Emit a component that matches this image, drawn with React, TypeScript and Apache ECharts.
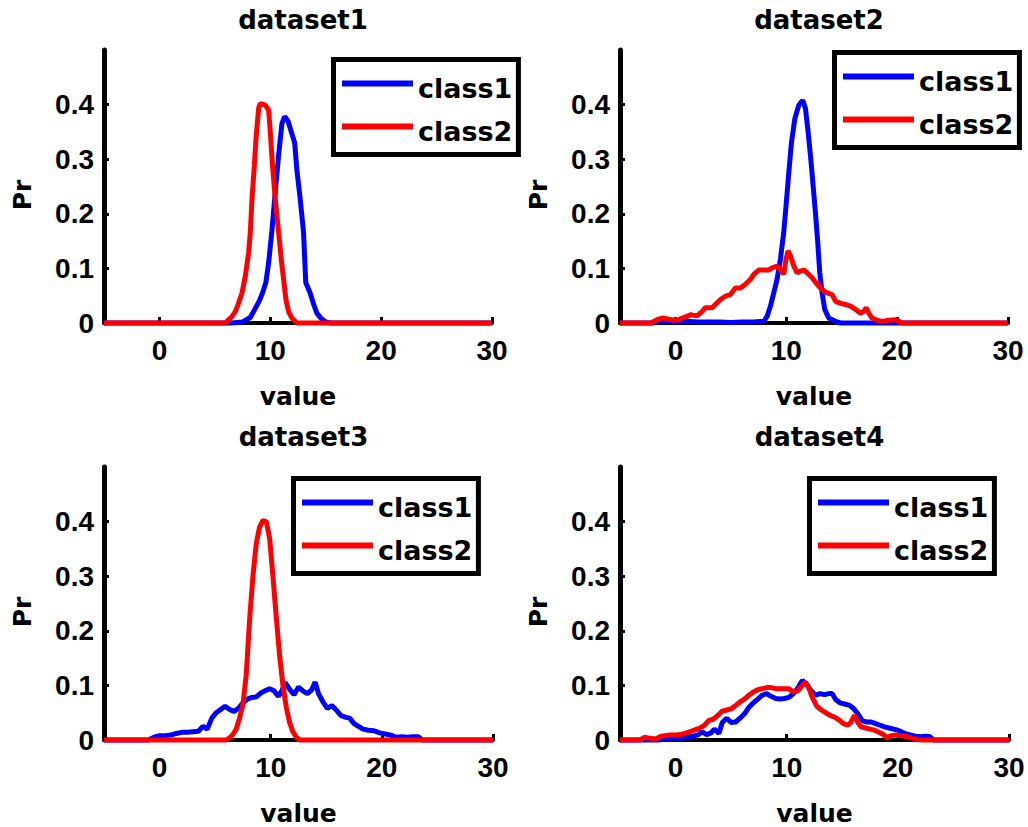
import React, { useEffect, useRef } from 'react';
import * as echarts from 'echarts';

const panelTitles = ['dataset1', 'dataset2', 'dataset3', 'dataset4'];
const seriesNames = ['class1', 'class2'];
const seriesColors = ['#0000ff', '#ff0000'];
const xTickValues = [0, 10, 20, 30];
const yTickValues = [0, 0.1, 0.2, 0.3, 0.4];
const xLabel = 'value';
const yLabel = 'Pr';

// dataset1
const d1Class1X = [-5, 6.5, 7.5, 8.2, 8.6, 9.0, 9.3, 9.6, 9.85, 10.15, 10.45, 10.75, 11.05, 11.3, 11.6, 11.9, 12.2, 12.4, 12.7, 13.0, 13.2, 13.6, 13.9, 14.2, 14.6, 15.0, 15.4, 30];
const d1Class1Y = [0, 0, 0.002, 0.01, 0.025, 0.04, 0.055, 0.074, 0.11, 0.17, 0.24, 0.307, 0.365, 0.378, 0.37, 0.35, 0.33, 0.28, 0.227, 0.166, 0.074, 0.055, 0.035, 0.018, 0.008, 0.002, 0, 0];
const d1Class2X = [-5, 5.9, 6.1, 6.55, 6.85, 7.15, 7.45, 7.75, 8.05, 8.2, 8.35, 8.56, 8.71, 8.95, 9.1, 9.55, 9.85, 10.0, 10.2, 10.45, 10.75, 10.99, 11.2, 11.41, 11.65, 11.95, 12.4, 30];
const d1Class2Y = [0, 0, 0.003, 0.012, 0.021, 0.037, 0.055, 0.086, 0.129, 0.166, 0.227, 0.288, 0.337, 0.393, 0.402, 0.399, 0.39, 0.35, 0.288, 0.227, 0.166, 0.117, 0.08, 0.043, 0.021, 0.009, 0, 0];

// dataset2
const d2Class1X = [-5, -2, -1.5, -1, 0, 1, 2, 3, 4, 5, 6, 7, 7.97, 8.27, 8.57, 8.87, 9.17, 9.47, 9.77, 9.98, 10.23, 10.47, 10.77, 11.13, 11.49, 11.73, 11.97, 12.18, 12.42, 12.63, 12.84, 13.02, 13.23, 13.47, 13.83, 14.44, 14.89, 30];
const d2Class1Y = [0, 0, 0.002, 0.003, 0.002, 0.003, 0.002, 0.002, 0.002, 0.001, 0.002, 0.002, 0.003, 0.012, 0.031, 0.055, 0.08, 0.117, 0.166, 0.215, 0.276, 0.331, 0.374, 0.399, 0.408, 0.393, 0.35, 0.307, 0.252, 0.202, 0.147, 0.092, 0.055, 0.025, 0.009, 0.003, 0, 0];
const d2Class2X = [-5, -2.2, -1.65, -1.2, -0.6, -0.15, 0.3, 0.6, 1.05, 1.35, 1.95, 2.4, 2.7, 3.3, 3.6, 4.06, 4.51, 4.96, 5.41, 5.86, 6.32, 6.77, 7.07, 7.52, 8.42, 8.72, 9.17, 9.62, 9.77, 9.98, 10.17, 10.38, 10.68, 10.98, 11.28, 11.58, 11.88, 12.33, 12.78, 13.23, 13.68, 14.14, 14.44, 14.89, 15.34, 15.79, 16.24, 16.69, 16.99, 17.2, 17.44, 17.74, 18.2, 18.65, 19.25, 19.85, 20.15, 20.45, 30];
const d2Class2Y = [0, 0, 0.006, 0.009, 0.007, 0.005, 0.006, 0.009, 0.012, 0.015, 0.013, 0.021, 0.028, 0.028, 0.034, 0.043, 0.049, 0.052, 0.064, 0.064, 0.071, 0.08, 0.089, 0.097, 0.097, 0.101, 0.104, 0.095, 0.089, 0.117, 0.132, 0.123, 0.104, 0.092, 0.095, 0.097, 0.092, 0.083, 0.071, 0.061, 0.055, 0.052, 0.04, 0.036, 0.034, 0.031, 0.025, 0.018, 0.021, 0.028, 0.018, 0.009, 0.005, 0.003, 0.005, 0.006, 0.003, 0, 0];

// dataset3
const d3Class1X = [-5, -1, -0.5, 0, 0.5, 1.0, 1.5, 2.0, 2.5, 3.0, 3.5, 3.9, 4.3, 4.7, 5.1, 5.5, 5.9, 6.3, 6.7, 7.1, 7.5, 7.9, 8.3, 8.7, 9.1, 9.5, 9.9, 10.3, 10.7, 11.0, 11.3, 11.7, 12.1, 12.5, 12.9, 13.3, 13.7, 14.0, 14.3, 14.7, 15.1, 15.5, 15.9, 16.3, 16.7, 17.1, 17.5, 17.9, 18.3, 18.8, 19.3, 19.8, 20.3, 20.8, 21.3, 21.8, 22.3, 22.8, 23.3, 23.6, 30];
const d3Class1Y = [0, 0, 0.005, 0.008, 0.008, 0.009, 0.012, 0.014, 0.014, 0.015, 0.016, 0.025, 0.02, 0.04, 0.05, 0.056, 0.062, 0.056, 0.052, 0.058, 0.068, 0.075, 0.078, 0.079, 0.086, 0.09, 0.094, 0.09, 0.08, 0.09, 0.105, 0.093, 0.083, 0.097, 0.09, 0.085, 0.092, 0.106, 0.085, 0.07, 0.058, 0.063, 0.055, 0.045, 0.042, 0.04, 0.03, 0.025, 0.02, 0.018, 0.017, 0.013, 0.011, 0.009, 0.005, 0.006, 0.005, 0.006, 0.006, 0, 0];
const d3Class2X = [-5, 6.0, 6.3, 6.6, 6.9, 7.2, 7.5, 7.8, 8.1, 8.4, 8.7, 9.0, 9.3, 9.6, 9.9, 10.2, 10.5, 10.8, 11.1, 11.4, 11.7, 12.0, 12.3, 12.6, 30];
const d3Class2Y = [0, 0, 0.004, 0.01, 0.02, 0.04, 0.065, 0.12, 0.22, 0.3, 0.36, 0.39, 0.402, 0.4, 0.37, 0.3, 0.225, 0.155, 0.1, 0.06, 0.032, 0.015, 0.005, 0, 0];

// dataset4
const d4Class1X = [-5, -1.5, -1, -0.5, 0, 0.5, 1.0, 1.5, 2.0, 2.4, 2.8, 3.2, 3.5, 3.9, 4.2, 4.6, 5.0, 5.4, 5.8, 6.2, 6.6, 7.0, 7.4, 7.8, 8.2, 8.6, 9.0, 9.4, 9.8, 10.2, 10.6, 11.0, 11.4, 11.8, 12.2, 12.6, 13.0, 13.4, 13.8, 14.1, 14.4, 14.8, 15.2, 15.6, 16.0, 16.4, 16.8, 17.2, 17.6, 18.0, 18.4, 18.8, 19.2, 19.6, 20.0, 20.4, 20.8, 21.2, 21.6, 22.0, 22.5, 22.9, 23.2, 30];
const d4Class1Y = [0, 0, 0.002, 0.003, 0.003, 0.003, 0.005, 0.007, 0.009, 0.015, 0.01, 0.013, 0.02, 0.012, 0.032, 0.04, 0.032, 0.033, 0.04, 0.048, 0.06, 0.068, 0.075, 0.082, 0.085, 0.08, 0.076, 0.075, 0.076, 0.078, 0.085, 0.095, 0.109, 0.102, 0.09, 0.082, 0.085, 0.083, 0.085, 0.085, 0.074, 0.068, 0.066, 0.064, 0.058, 0.048, 0.035, 0.033, 0.033, 0.03, 0.027, 0.024, 0.022, 0.02, 0.018, 0.014, 0.011, 0.009, 0.007, 0.006, 0.007, 0.006, 0, 0];
const d4Class2X = [-5, -3.2, -2.8, -2.3, -1.8, -1.4, -1.0, -0.5, 0, 0.5, 1.0, 1.4, 1.8, 2.2, 2.6, 3.0, 3.4, 3.8, 4.2, 4.6, 5.0, 5.4, 5.8, 6.2, 6.6, 7.0, 7.4, 7.8, 8.2, 8.6, 9.0, 9.4, 9.8, 10.2, 10.6, 11.0, 11.4, 11.7, 12.0, 12.3, 12.7, 13.1, 13.5, 13.9, 14.3, 14.7, 15.1, 15.5, 15.8, 16.1, 16.4, 16.7, 17.1, 17.5, 17.9, 18.3, 18.7, 19.0, 19.4, 19.8, 20.3, 20.8, 21.3, 21.8, 22.2, 30];
const d4Class2Y = [0, 0, 0.005, 0.003, 0.002, 0.006, 0.008, 0.009, 0.009, 0.01, 0.013, 0.016, 0.019, 0.022, 0.027, 0.036, 0.038, 0.045, 0.053, 0.055, 0.057, 0.063, 0.07, 0.075, 0.082, 0.088, 0.092, 0.094, 0.096, 0.096, 0.094, 0.094, 0.094, 0.094, 0.088, 0.09, 0.1, 0.106, 0.095, 0.078, 0.062, 0.055, 0.05, 0.045, 0.042, 0.037, 0.03, 0.027, 0.033, 0.045, 0.032, 0.024, 0.022, 0.02, 0.018, 0.014, 0.01, 0.004, 0.008, 0.009, 0.008, 0.006, 0.003, 0.001, 0, 0];

const panelData = [
  [[d1Class1X, d1Class1Y], [d1Class2X, d1Class2Y]],
  [[d2Class1X, d2Class1Y], [d2Class2X, d2Class2Y]],
  [[d3Class1X, d3Class1Y], [d3Class2X, d3Class2Y]],
  [[d4Class1X, d4Class1Y], [d4Class2X, d4Class2Y]],
];

const pair = (xs: number[], ys: number[]) => xs.map((x, i) => [x, ys[i]]);

// layout (pixels)
const GRIDS = [
  { left: 104, top: 50, width: 388, height: 273 },
  { left: 620, top: 50, width: 388, height: 273 },
  { left: 104, top: 467, width: 389, height: 274 },
  { left: 620, top: 467, width: 389, height: 274 },
];
const TITLE_POS = [
  { left: 298, top: 2 },
  { left: 814, top: 2 },
  { left: 298.5, top: 419 },
  { left: 814.5, top: 419 },
];
const LEGEND_POS = [
  { left: 333.5, top: 59.5 },
  { left: 834.5, top: 52.5 },
  { left: 293.5, top: 478.5 },
  { left: 809.5, top: 478.5 },
];

// legend line drawn in the upper part of the icon box so the label sits a little lower
const LEGEND_ICON = 'path://M0,0L71,0L71,6L0,6Z M0,16L71,16Z';

const FONT = 'DejaVu Sans';
const TICK_FONT = 'Liberation Sans';

export default function App() {
  const ref = useRef<HTMLDivElement>(null);

  useEffect(() => {
    if (!ref.current) return;
    const chart = echarts.init(ref.current, undefined, { renderer: 'svg' });

    const option: any = {
      animation: false,
      backgroundColor: '#ffffff',
      title: panelTitles.map((t, i) => ({
        text: t,
        left: TITLE_POS[i].left,
        top: TITLE_POS[i].top,
        textAlign: 'center',
        textStyle: { fontFamily: FONT, fontWeight: 'bold', fontSize: 26, color: '#000' },
      })),
      legend: panelTitles.map((_, i) => ({
        data: seriesNames,
        orient: 'vertical',
        left: LEGEND_POS[i].left,
        top: LEGEND_POS[i].top,
        icon: LEGEND_ICON,
        itemWidth: 71,
        itemHeight: 16,
        itemGap: 16,
        padding: [15.5, 6, 9.5, 8.5],
        borderColor: '#000',
        borderWidth: 5,
        backgroundColor: '#fff',
        selectedMode: false,
        itemStyle: { borderWidth: 0 },
        textStyle: {
          fontFamily: FONT,
          fontWeight: 'bold',
          fontSize: 27,
          lineHeight: 26,
          color: '#000',
        },
      })),
      grid: GRIDS.map((g) => ({ ...g, containLabel: false })),
      xAxis: GRIDS.map((_, i) => ({
        type: 'value',
        gridIndex: i,
        min: -5,
        max: 30,
        name: xLabel,
        nameLocation: 'middle',
        nameGap: 61,
        nameTextStyle: { fontFamily: FONT, fontWeight: 'bold', fontSize: 25, color: '#000' },
        axisLine: { show: true, onZero: false, lineStyle: { color: '#000', width: 4 } },
        axisTick: { show: true, inside: true, length: 6, customValues: xTickValues, lineStyle: { color: '#000', width: 3 } },
        axisLabel: {
          customValues: xTickValues,
          margin: 13,
          fontFamily: TICK_FONT,
          fontWeight: 'bold',
          fontSize: 28,
          color: '#000',
        },
        splitLine: { show: false },
      })),
      yAxis: GRIDS.map((_, i) => ({
        type: 'value',
        gridIndex: i,
        min: 0,
        max: 0.5,
        name: yLabel,
        nameLocation: 'middle',
        nameGap: 69,
        nameTextStyle: {
          fontFamily: FONT,
          fontWeight: 'bold',
          fontSize: 25,
          color: '#000',
          padding: [0, 17, 0, 0],
        },
        axisLine: { show: true, onZero: false, lineStyle: { color: '#000', width: 5 } },
        axisTick: { show: true, inside: true, length: 5, customValues: yTickValues, lineStyle: { color: '#000', width: 3 } },
        axisLabel: {
          customValues: yTickValues,
          margin: 10,
          fontFamily: TICK_FONT,
          fontWeight: 'bold',
          fontSize: 28,
          color: '#000',
          padding: [7, 0, 0, 0],
          formatter: (v: number) => String(Math.round(v * 10) / 10),
        },
        splitLine: { show: false },
      })),
      series: panelData.flatMap((pd, i) =>
        pd.map(([xs, ys], j) => ({
          type: 'line',
          name: seriesNames[j],
          xAxisIndex: i,
          yAxisIndex: i,
          data: pair(xs, ys),
          symbol: 'none',
          showSymbol: false,
          clip: false,
          color: seriesColors[j],
          lineStyle: { color: seriesColors[j], width: 5 },
          z: 3 + j,
        }))
      ),
    };

    chart.setOption(option);
    return () => chart.dispose();
  }, []);

  return (
    <div
      ref={ref}
      style={{ position: 'absolute', left: 0, top: 0, width: 1028, height: 827, background: '#fff' }}
    />
  );
}
